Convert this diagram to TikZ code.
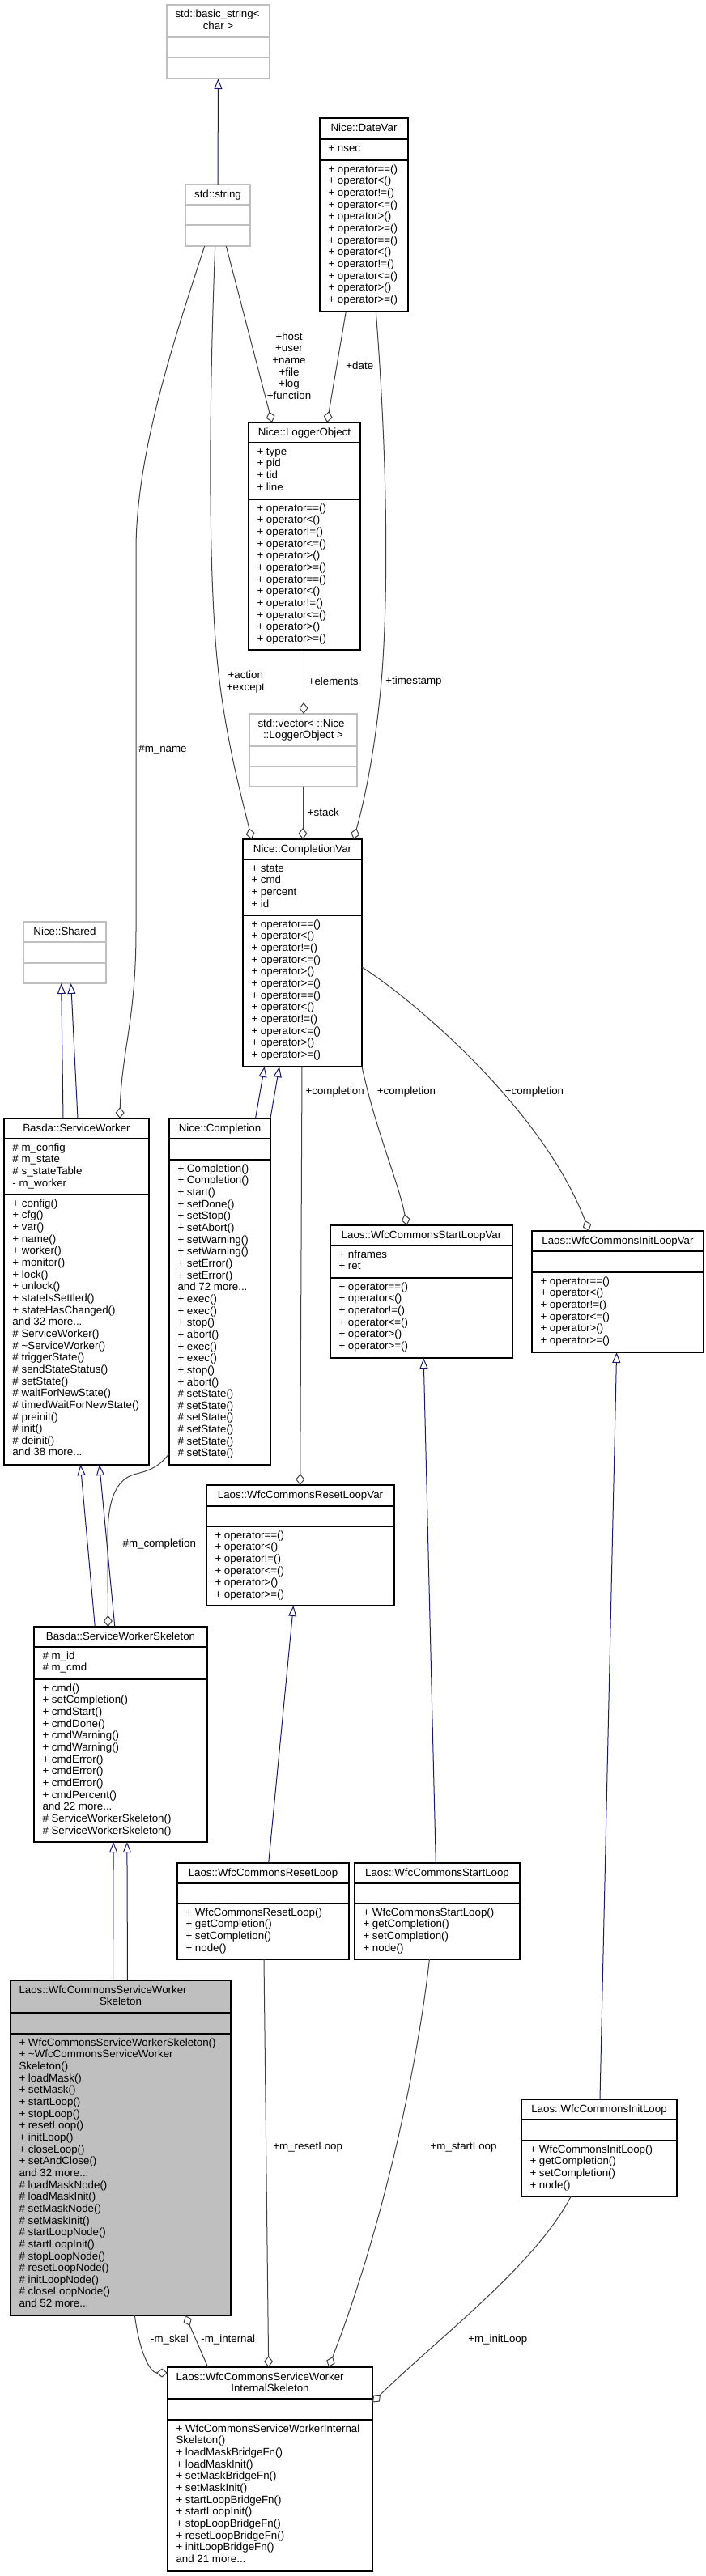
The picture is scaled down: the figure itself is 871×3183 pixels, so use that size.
\documentclass[tikz,border=0pt]{standalone}
\usepackage{fontspec}
\setmainfont{Liberation Sans}
\usetikzlibrary{arrows.meta}
\definecolor{edgegray}{HTML}{404040}
\definecolor{inhblue}{HTML}{191970}
\definecolor{boxgray}{HTML}{BFBFBF}
\definecolor{lightborder}{HTML}{BFBFBF}
\tikzset{
 txt/.style={inner sep=0pt, outer sep=0pt, font=\fontsize{13.33}{14.65}\selectfont},
 lbl/.style={txt, align=center},
 cls/.style={draw=black, line width=1.3pt, inner sep=0pt, outer sep=0pt, fill=white},
 clssep/.style={draw=black, line width=1.3pt},
 ext/.style={draw=lightborder, line width=1.3pt, inner sep=0pt, outer sep=0pt, fill=white},
 extsep/.style={draw=lightborder, line width=1.3pt},
 cur/.style={draw=black, line width=1.3pt, inner sep=0pt, outer sep=0pt, fill=boxgray},
 cursep/.style={draw=black, line width=1.3pt},
 inh/.style={draw=inhblue, line width=1pt, -{Triangle[open, fill=white, length=13pt, width=10pt]}},
 agg/.style={draw=edgegray, line width=1pt, -{Diamond[open, fill=white, length=14pt, width=11pt]}},
}
\newcommand\umlbox[8]{%
 \node[#8, minimum width={#4-#2}, minimum height={#5-#3}] (#1) at ({(#2+#4)/2},{(#3+#5)/2}) {};
 \draw[#8sep] (#2,#6) -- (#4,#6) (#2,#7) -- (#4,#7);}
\newcommand\umltitle[4]{\node[txt,anchor=base] (#1) at (#2,#3) {#4};}
\newcommand\umltitlel[4]{\node[txt,anchor=base west] (#1) at (#2,#3) {#4};}
\newcommand\umllines[4]{\foreach \itm [count=\i from 0] in {#4} {\node[txt,anchor=base west] (#1\i) at (#2,{#3+\i*14.65}) {\itm};}}
\begin{document}
\begin{tikzpicture}[x=1pt,y=-1pt]
\fill[white] (0,0) rectangle (871,3183);
\useasboundingbox (0,0) rectangle (871,3183);

% std::basic_string<char>
\umlbox{bstr}{206}{6}{333}{97}{46}{71}{ext}
\umltitlel{bstr-t1}{216.5}{21.7}{std::basic\_string<}
\umltitle{bstr-t2}{269.5}{36.4}{char >}

% std::string
\umlbox{str}{229}{228}{309}{304}{253}{278}{ext}
\umltitle{str-t}{269}{244.3}{std::string}

% Nice::DateVar
\umlbox{date}{395}{146}{504}{385}{172}{198}{cls}
\umltitle{date-t}{449.5}{162.3}{Nice::DateVar}
\umllines{date-a}{405.5}{187.3}{+ nsec}
\umllines{date-m}{405.5}{213.3}{+ operator==(), + operator<(), + operator!=(), + operator<=(), + operator>(), + operator>=(), + operator==(), + operator<(), + operator!=(), + operator<=(), + operator>(), + operator>=()}

% Nice::LoggerObject
\umlbox{logger}{307}{522}{445}{803}{547}{617}{cls}
\umltitle{logger-t}{376}{538.3}{Nice::LoggerObject}
\umllines{logger-a}{317.5}{562.3}{+ type, + pid, + tid, + line}
\umllines{logger-m}{317.5}{632.3}{+ operator==(), + operator<(), + operator!=(), + operator<=(), + operator>(), + operator>=(), + operator==(), + operator<(), + operator!=(), + operator<=(), + operator>(), + operator>=()}

% std::vector
\umlbox{vec}{308}{882}{441}{972}{922}{947}{ext}
\umltitlel{vec-t1}{318.5}{898}{std::vector< ::Nice}
\umltitle{vec-t2}{374.5}{912.65}{::LoggerObject >}

% Nice::CompletionVar
\umlbox{cvar}{300}{1037}{447}{1318}{1062}{1131}{cls}
\umltitle{cvar-t}{373.5}{1053.3}{Nice::CompletionVar}
\umllines{cvar-a}{310.5}{1077.3}{+ state, + cmd, + percent, + id}
\umllines{cvar-m}{310.5}{1146.3}{+ operator==(), + operator<(), + operator!=(), + operator<=(), + operator>(), + operator>=(), + operator==(), + operator<(), + operator!=(), + operator<=(), + operator>(), + operator>=()}

% Nice::Shared
\umlbox{shared}{29}{1139}{131}{1215}{1164}{1190}{ext}
\umltitle{shared-t}{80}{1155.3}{Nice::Shared}

% Basda::ServiceWorker
\umlbox{sw}{5}{1382}{184}{1810}{1407}{1476}{cls}
\umltitle{sw-t}{94.5}{1398.3}{Basda::ServiceWorker}
\umllines{sw-a}{15.5}{1422.3}{\# m\_config, \# m\_state, \# s\_stateTable, - m\_worker}
\umllines{sw-m}{15.5}{1491.3}{+ config(), + cfg(), + var(), + name(), + worker(), + monitor(), + lock(), + unlock(), + stateIsSettled(), + stateHasChanged(), and 32 more{...}, \# ServiceWorker(), \# \textasciitilde ServiceWorker(), \# triggerState(), \# sendStateStatus(), \# setState(), \# waitForNewState(), \# timedWaitForNewState(), \# preinit(), \# init(), \# deinit(), and 38 more{...}}

% Nice::Completion
\umlbox{compl}{209}{1382}{334}{1810}{1407}{1433}{cls}
\umltitle{compl-t}{271.5}{1398.3}{Nice::Completion}
\umllines{compl-m}{219.5}{1448.3}{+ Completion(), + Completion(), + start(), + setDone(), + setStop(), + setAbort(), + setWarning(), + setWarning(), + setError(), + setError(), and 72 more{...}, + exec(), + exec(), + stop(), + abort(), + exec(), + exec(), + stop(), + abort(), \# setState(), \# setState(), \# setState(), \# setState(), \# setState(), \# setState()}

% Laos::WfcCommonsStartLoopVar
\umlbox{slvar}{408}{1514}{633}{1678}{1539}{1579}{cls}
\umltitle{slvar-t}{520.5}{1530.3}{Laos::WfcCommonsStartLoopVar}
\umllines{slvar-a}{418.5}{1554.3}{+ nframes, + ret}
\umllines{slvar-m}{418.5}{1594.3}{+ operator==(), + operator<(), + operator!=(), + operator<=(), + operator>(), + operator>=()}

% Laos::WfcCommonsInitLoopVar
\umlbox{ilvar}{657}{1521}{869}{1671}{1546}{1572}{cls}
\umltitle{ilvar-t}{763}{1537.3}{Laos::WfcCommonsInitLoopVar}
\umllines{ilvar-m}{667.5}{1587.3}{+ operator==(), + operator<(), + operator!=(), + operator<=(), + operator>(), + operator>=()}

% Laos::WfcCommonsResetLoopVar
\umlbox{rlvar}{255}{1835}{487}{1984}{1861}{1886}{cls}
\umltitle{rlvar-t}{371}{1851.3}{Laos::WfcCommonsResetLoopVar}
\umllines{rlvar-m}{265.5}{1901.3}{+ operator==(), + operator<(), + operator!=(), + operator<=(), + operator>(), + operator>=()}

% Basda::ServiceWorkerSkeleton
\umlbox{sws}{42}{2010}{256}{2276}{2035}{2075}{cls}
\umltitle{sws-t}{149}{2026.3}{Basda::ServiceWorkerSkeleton}
\umllines{sws-a}{52.5}{2050.3}{\# m\_id, \# m\_cmd}
\umllines{sws-m}{52.5}{2090.3}{+ cmd(), + setCompletion(), + cmdStart(), + cmdDone(), + cmdWarning(), + cmdWarning(), + cmdError(), + cmdError(), + cmdError(), + cmdPercent(), and 22 more{...}, \# ServiceWorkerSkeleton(), \# ServiceWorkerSkeleton()}

% Laos::WfcCommonsResetLoop
\umlbox{rl}{219}{2302}{431}{2421}{2327}{2352}{cls}
\umltitle{rl-t}{325}{2318.3}{Laos::WfcCommonsResetLoop}
\umllines{rl-m}{229.5}{2367.3}{+ WfcCommonsResetLoop(), + getCompletion(), + setCompletion(), + node()}

% Laos::WfcCommonsStartLoop
\umlbox{sl}{438}{2302}{642}{2421}{2327}{2352}{cls}
\umltitle{sl-t}{540}{2318.3}{Laos::WfcCommonsStartLoop}
\umllines{sl-m}{448.5}{2367.3}{+ WfcCommonsStartLoop(), + getCompletion(), + setCompletion(), + node()}

% Laos::WfcCommonsServiceWorkerSkeleton
\umlbox{wcsws}{13}{2447}{285}{2861}{2487}{2513}{cur}
\umltitlel{wcsws-t1}{23.5}{2463}{Laos::WfcCommonsServiceWorker}
\umltitle{wcsws-t2}{149}{2477.65}{Skeleton}
\umllines{wcsws-m}{23.5}{2528.3}{+ WfcCommonsServiceWorkerSkeleton(), + \textasciitilde WfcCommonsServiceWorker, Skeleton(), + loadMask(), + setMask(), + startLoop(), + stopLoop(), + resetLoop(), + initLoop(), + closeLoop(), + setAndClose(), and 32 more{...}, \# loadMaskNode(), \# loadMaskInit(), \# setMaskNode(), \# setMaskInit(), \# startLoopNode(), \# startLoopInit(), \# stopLoopNode(), \# resetLoopNode(), \# initLoopNode(), \# closeLoopNode(), and 52 more{...}}

% Laos::WfcCommonsInitLoop
\umlbox{il}{644}{2594}{836}{2714}{2619}{2645}{cls}
\umltitle{il-t}{740}{2610.3}{Laos::WfcCommonsInitLoop}
\umllines{il-m}{654.5}{2660.3}{+ WfcCommonsInitLoop(), + getCompletion(), + setCompletion(), + node()}

% Laos::WfcCommonsServiceWorkerInternalSkeleton
\umlbox{isk}{207}{2925}{460}{3177}{2964}{2990}{cls}
\umltitlel{isk-t1}{217.5}{2941}{Laos::WfcCommonsServiceWorker}
\umltitle{isk-t2}{333.5}{2955.65}{InternalSkeleton}
\umllines{isk-m}{217.5}{3005.3}{+ WfcCommonsServiceWorkerInternal, Skeleton(), + loadMaskBridgeFn(), + loadMaskInit(), + setMaskBridgeFn(), + setMaskInit(), + startLoopBridgeFn(), + startLoopInit(), + stopLoopBridgeFn(), + resetLoopBridgeFn(), + initLoopBridgeFn(), and 21 more{...}}

% ---------- inheritance ----------
\draw[inh] (str.north) -- (bstr.south);
\draw[inh] ([xshift=-16.5pt]sw.north) -- ([xshift=-4.3pt]shared.south);
\draw[inh] ([xshift=1.5pt]sw.north) -- ([xshift=7.7pt]shared.south);
\draw[inh] ([xshift=44pt]compl.north) -- ([xshift=-46.8pt]cvar.south);
\draw[inh] ([xshift=62.4pt]compl.north) -- ([xshift=-28.5pt]cvar.south);
\draw[inh] ([xshift=-31.7pt]sws.north) -- ([xshift=4.9pt]sw.south);
\draw[inh] ([xshift=-7.2pt]sws.north) -- ([xshift=28.3pt]sw.south);
\draw[inh] ([xshift=-9.4pt]wcsws.north) -- ([xshift=-8.9pt]sws.south);
\draw[inh] ([xshift=8.5pt]wcsws.north) -- ([xshift=7.9pt]sws.south);
\draw[inh] ([xshift=6.7pt]rl.north) -- ([xshift=-8.6pt]rlvar.south);
\draw[inh] ([xshift=-1.7pt]sl.north) -- ([xshift=2.7pt]slvar.south);
\draw[inh] ([xshift=1pt]il.north) -- ([xshift=-1.4pt]ilvar.south);

% ---------- aggregation ----------
\draw[agg] ([xshift=10.3pt]str.south) -- ([xshift=-40pt]logger.north);
\draw[agg] ([xshift=-22.2pt]date.south) -- ([xshift=28pt]logger.north);
\draw[agg] ([xshift=-3.3pt]str.south) .. controls (260,450) and (256,650) .. (266,790) .. controls (274,900) and (300,990) .. ([xshift=-62.8pt]cvar.north);
\draw[agg] ([xshift=-16.3pt]str.south) .. controls (215,420) and (168,560) .. (168,680) -- (168,1150) .. controls (168,1260) and (150,1300) .. ([xshift=53.5pt]sw.north);
\draw[agg] ([xshift=14.8pt]date.south) .. controls (478,560) and (480,720) .. (472,830) .. controls (465,920) and (450,990) .. ([xshift=63.2pt]cvar.north);
\draw[agg] ([xshift=-1pt]logger.south) -- ([xshift=0.5pt]vec.north);
\draw[agg] ([xshift=-0.5pt]vec.south) -- ([xshift=0.5pt]cvar.north);
\draw[agg] ([xshift=-0.5pt]cvar.south) -- ([xshift=-0.3pt]rlvar.north);
\draw[agg] (cvar.south east) .. controls (465,1400) and (492,1460) .. ([xshift=-18pt]slvar.north);
\draw[agg] ([yshift=-17.5pt]cvar.east) .. controls (510,1235) and (670,1370) .. ([xshift=-35.5pt]ilvar.north);
\draw[agg] ([yshift=14pt]compl.south west) .. controls (195,1815) and (180,1818) .. (165,1822) .. controls (140,1830) and (133,1860) .. (133,1900) -- ([xshift=-15.6pt]sws.north);
\draw[agg] ([xshift=17.4pt]wcsws.south) .. controls (172,2905) and (185,2932) .. ([yshift=-7pt]isk.north west);
\draw[agg] ([xshift=-76.7pt]isk.north) -- ([xshift=79.9pt]wcsws.south);
\draw[agg] ([xshift=1pt]rl.south) -- ([xshift=-1.8pt]isk.north);
\draw[agg] ([xshift=-9.6pt]sl.south) .. controls (515,2560) and (470,2760) .. ([xshift=72.4pt]isk.north);
\draw[agg] ([xshift=-34.8pt]il.south) .. controls (660,2800) and (540,2890) .. ([yshift=-43.5pt]isk.north east);

% ---------- labels ----------
\node[lbl] (lhost) at (357,452) {+host\\+user\\+name\\+file\\+log\\+function};
\node[lbl] (ldate) at (444.3,452) {+date};
\node[lbl] (laction) at (303.3,842.5) {+action\\+except};
\node[lbl] (lname) at (201,926) {\#m\_name};
\node[lbl] (lts) at (511,842) {+timestamp};
\node[lbl] (lelem) at (411.7,841.5) {+elements};
\node[lbl] (lstack) at (399.3,1003.3) {+stack};
\node[lbl] (lc1) at (413.7,1349) {+completion};
\node[lbl] (lc2) at (502,1349) {+completion};
\node[lbl] (lc3) at (660,1349) {+completion};
\node[lbl] (lmc) at (196.8,1908.5) {\#m\_completion};
\node[lbl] (lrl) at (380.2,2652.8) {+m\_resetLoop};
\node[lbl] (lsl) at (572.6,2652.8) {+m\_startLoop};
\node[lbl] (lskel) at (209.4,2891.4) {-m\_skel};
\node[lbl] (lint) at (281.7,2891.4) {-m\_internal};
\node[lbl] (lil) at (614.8,2891.4) {+m\_initLoop};
\end{tikzpicture}
\end{document}
